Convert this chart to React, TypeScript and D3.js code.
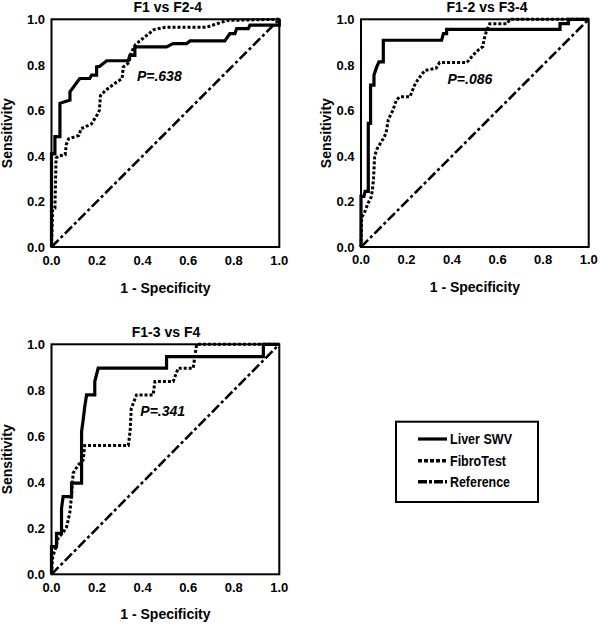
import React from "react";
import * as d3 from "d3";

const ticks = [0, 0.2, 0.4, 0.6, 0.8, 1.0];
const titles = ["F1 vs F2-4", "F1-2 vs F3-4", "F1-3 vs F4"];
const pLabels = ["P=.638", "P=.086", "P=.341"];
const legendLabels = ["Liver SWV", "FibroTest", "Reference"];

const swv1: [number, number][] = [
  [0, 0], [0, 0.409], [0.015, 0.409], [0.015, 0.485], [0.037, 0.485], [0.037, 0.631],
  [0.081, 0.645], [0.081, 0.682], [0.124, 0.74], [0.168, 0.74], [0.176, 0.755], [0.198, 0.755],
  [0.198, 0.791], [0.212, 0.794], [0.242, 0.818], [0.337, 0.818], [0.344, 0.842], [0.366, 0.842],
  [0.366, 0.879], [0.505, 0.879], [0.534, 0.893], [0.593, 0.893], [0.608, 0.905], [0.761, 0.905],
  [0.783, 0.937], [0.805, 0.937], [0.813, 0.959], [0.864, 0.959], [0.871, 0.974], [1, 0.974], [1, 1],
];
const fibro1: [number, number][] = [
  [0, 0], [0.005, 0.165], [0.015, 0.17], [0.02, 0.39], [0.03, 0.4], [0.06, 0.405], [0.065, 0.45],
  [0.075, 0.475], [0.12, 0.49], [0.13, 0.52], [0.175, 0.54], [0.2, 0.58], [0.21, 0.6], [0.215, 0.665],
  [0.24, 0.69], [0.28, 0.72], [0.31, 0.74], [0.315, 0.79], [0.34, 0.81], [0.35, 0.855], [0.37, 0.89],
  [0.4, 0.915], [0.45, 0.955], [0.5, 0.965], [0.68, 0.965], [0.71, 0.975], [0.77, 0.995], [1, 1],
];
const swv2: [number, number][] = [
  [0, 0], [0, 0.222], [0.013, 0.222], [0.018, 0.244], [0.032, 0.244], [0.032, 0.543], [0.042, 0.543],
  [0.042, 0.711], [0.057, 0.711], [0.057, 0.755], [0.069, 0.791], [0.079, 0.813], [0.098, 0.813],
  [0.098, 0.908], [0.354, 0.908], [0.362, 0.937], [0.376, 0.937], [0.376, 0.956], [0.874, 0.956],
  [0.874, 0.981], [0.911, 0.981], [0.911, 1], [1, 1],
];
const fibro2: [number, number][] = [
  [0, 0], [0.003, 0.13], [0.015, 0.15], [0.03, 0.19], [0.045, 0.22], [0.05, 0.25], [0.055, 0.3],
  [0.06, 0.4], [0.07, 0.43], [0.085, 0.455], [0.1, 0.48], [0.11, 0.5], [0.12, 0.56], [0.14, 0.6],
  [0.155, 0.645], [0.17, 0.66], [0.215, 0.66], [0.235, 0.71], [0.25, 0.735], [0.28, 0.775],
  [0.33, 0.785], [0.345, 0.81], [0.465, 0.81], [0.49, 0.84], [0.515, 0.865], [0.535, 0.88],
  [0.54, 0.91], [0.55, 0.945], [0.565, 0.98], [0.64, 0.98], [0.655, 1], [1, 1],
];
const swv3: [number, number][] = [
  [0, 0], [0, 0.12], [0.022, 0.12], [0.022, 0.178], [0.044, 0.178], [0.044, 0.287], [0.051, 0.338],
  [0.088, 0.338], [0.088, 0.396], [0.132, 0.396], [0.132, 0.62], [0.139, 0.671], [0.146, 0.729],
  [0.154, 0.78], [0.19, 0.78], [0.19, 0.838], [0.205, 0.896], [0.505, 0.896], [0.505, 0.946],
  [0.93, 0.946], [0.93, 1], [1, 1],
];
const fibro3: [number, number][] = [
  [0, 0], [0.005, 0.075], [0.02, 0.12], [0.03, 0.16], [0.05, 0.18], [0.066, 0.205], [0.08, 0.265],
  [0.088, 0.34], [0.095, 0.44], [0.117, 0.475], [0.139, 0.497], [0.146, 0.56], [0.337, 0.56],
  [0.345, 0.62], [0.35, 0.72], [0.373, 0.78], [0.446, 0.78], [0.454, 0.838], [0.534, 0.838],
  [0.556, 0.896], [0.622, 0.896], [0.637, 1], [1, 1],
];
const reference: [number, number][] = [[0, 0], [1, 1]];

const swvSeries = [swv1, swv2, swv3];
const fibroSeries = [fibro1, fibro2, fibro3];
const pPos: [number, number][] = [[0.375, 0.73], [0.38, 0.715], [0.39, 0.69]];

const layouts = [
  { left: 51.5, top: 19.3, w: 227.8, h: 227.7, titleX: 167.7, titleY: 11.7, yLabX: 11.5, xLabY: 293, xTickY: 265.3 },
  { left: 361, top: 19.3, w: 227.7, h: 227.7, titleX: 487, titleY: 11.7, yLabX: 331, xLabY: 291.7, xTickY: 264.3 },
  { left: 51.5, top: 344.3, w: 227.8, h: 230, titleX: 166, titleY: 337, yLabX: 11.5, xLabY: 618.5, xTickY: 591.7 },
];

const FONT = "'Liberation Sans', Arial, sans-serif";
const NARROW = "'Liberation Sans Narrow', 'Liberation Sans', Arial, sans-serif";

const SOLID = { strokeWidth: 3.2, dash: undefined as string | undefined };
const DOT = { strokeWidth: 3, dash: "3,2" };
const DASHDOT = { strokeWidth: 2.6, dash: "10,3,3,3" };

function Panel({ i }: { i: number }) {
  const L = layouts[i];
  const x = d3.scaleLinear().domain([0, 1]).range([L.left, L.left + L.w]);
  const y = d3.scaleLinear().domain([0, 1]).range([L.top + L.h, L.top]);
  const line = d3.line<[number, number]>().x((d) => x(d[0])).y((d) => y(d[1]));
  return (
    <g>
      <text x={L.titleX} y={L.titleY} textAnchor="middle" fontFamily={FONT} fontWeight="bold" fontSize={14}>
        {titles[i]}
      </text>
      <path d={line(reference) || ""} fill="none" stroke="#000" strokeWidth={DASHDOT.strokeWidth} strokeDasharray={DASHDOT.dash} />
      <path d={line(fibroSeries[i]) || ""} fill="none" stroke="#000" strokeWidth={DOT.strokeWidth} strokeDasharray={DOT.dash} />
      <path d={line(swvSeries[i]) || ""} fill="none" stroke="#000" strokeWidth={SOLID.strokeWidth} strokeLinejoin="miter" />
      <rect x={L.left} y={L.top} width={L.w} height={L.h} fill="none" stroke="#000" strokeWidth={2} />
      {ticks.map((t) => (
        <text key={"y" + t} x={L.left - 6.5} y={y(t) + 4.7} textAnchor="end" fontFamily={FONT} fontWeight="bold" fontSize={13}>
          {t.toFixed(1)}
        </text>
      ))}
      {ticks.map((t) => (
        <text key={"x" + t} x={x(t)} y={L.xTickY} textAnchor="middle" fontFamily={FONT} fontWeight="bold" fontSize={13}>
          {t.toFixed(1)}
        </text>
      ))}
      <text x={L.left + L.w / 2} y={L.xLabY} textAnchor="middle" fontFamily={FONT} fontWeight="bold" fontSize={14}>
        1 - Specificity
      </text>
      <text
        transform={`translate(${L.yLabX},${L.top + L.h / 2}) rotate(-90)`}
        textAnchor="middle"
        fontFamily={FONT}
        fontWeight="bold"
        fontSize={14}
      >
        Sensitivity
      </text>
      <text x={x(pPos[i][0])} y={y(pPos[i][1])} fontFamily={FONT} fontWeight="bold" fontStyle="italic" fontSize={14}>
        {pLabels[i]}
      </text>
    </g>
  );
}

function Legend() {
  const bx = 396, by = 421.7, bw = 142, bh = 80.3;
  const rows = [
    { style: SOLID, ly: 439, ty: 444, tl: 62 },
    { style: { strokeWidth: 3.5, dash: "4,2" }, ly: 460.7, ty: 466, tl: 56 },
    { style: { strokeWidth: 3.5, dash: "9,2,3,2" }, ly: 481.7, ty: 486.7, tl: 60 },
  ];
  return (
    <g>
      <rect x={bx} y={by} width={bw} height={bh} fill="#fff" stroke="#000" strokeWidth={2} />
      {rows.map((r, k) => (
        <g key={k}>
          <line x1={418} x2={447} y1={r.ly} y2={r.ly} stroke="#000" strokeWidth={r.style.strokeWidth} strokeDasharray={r.style.dash} />
          <text x={450} y={r.ty} fontFamily={NARROW} fontWeight="bold" fontSize={14.5} textLength={r.tl} lengthAdjust="spacingAndGlyphs">
            {legendLabels[k]}
          </text>
        </g>
      ))}
    </g>
  );
}

export default function App() {
  return (
    <svg width={600} height={624} style={{ position: "absolute", left: 0, top: 0, background: "#fff" }}>
      <rect x={0} y={0} width={600} height={624} fill="#fff" />
      {[0, 1, 2].map((i) => (
        <Panel key={i} i={i} />
      ))}
      <Legend />
    </svg>
  );
}
